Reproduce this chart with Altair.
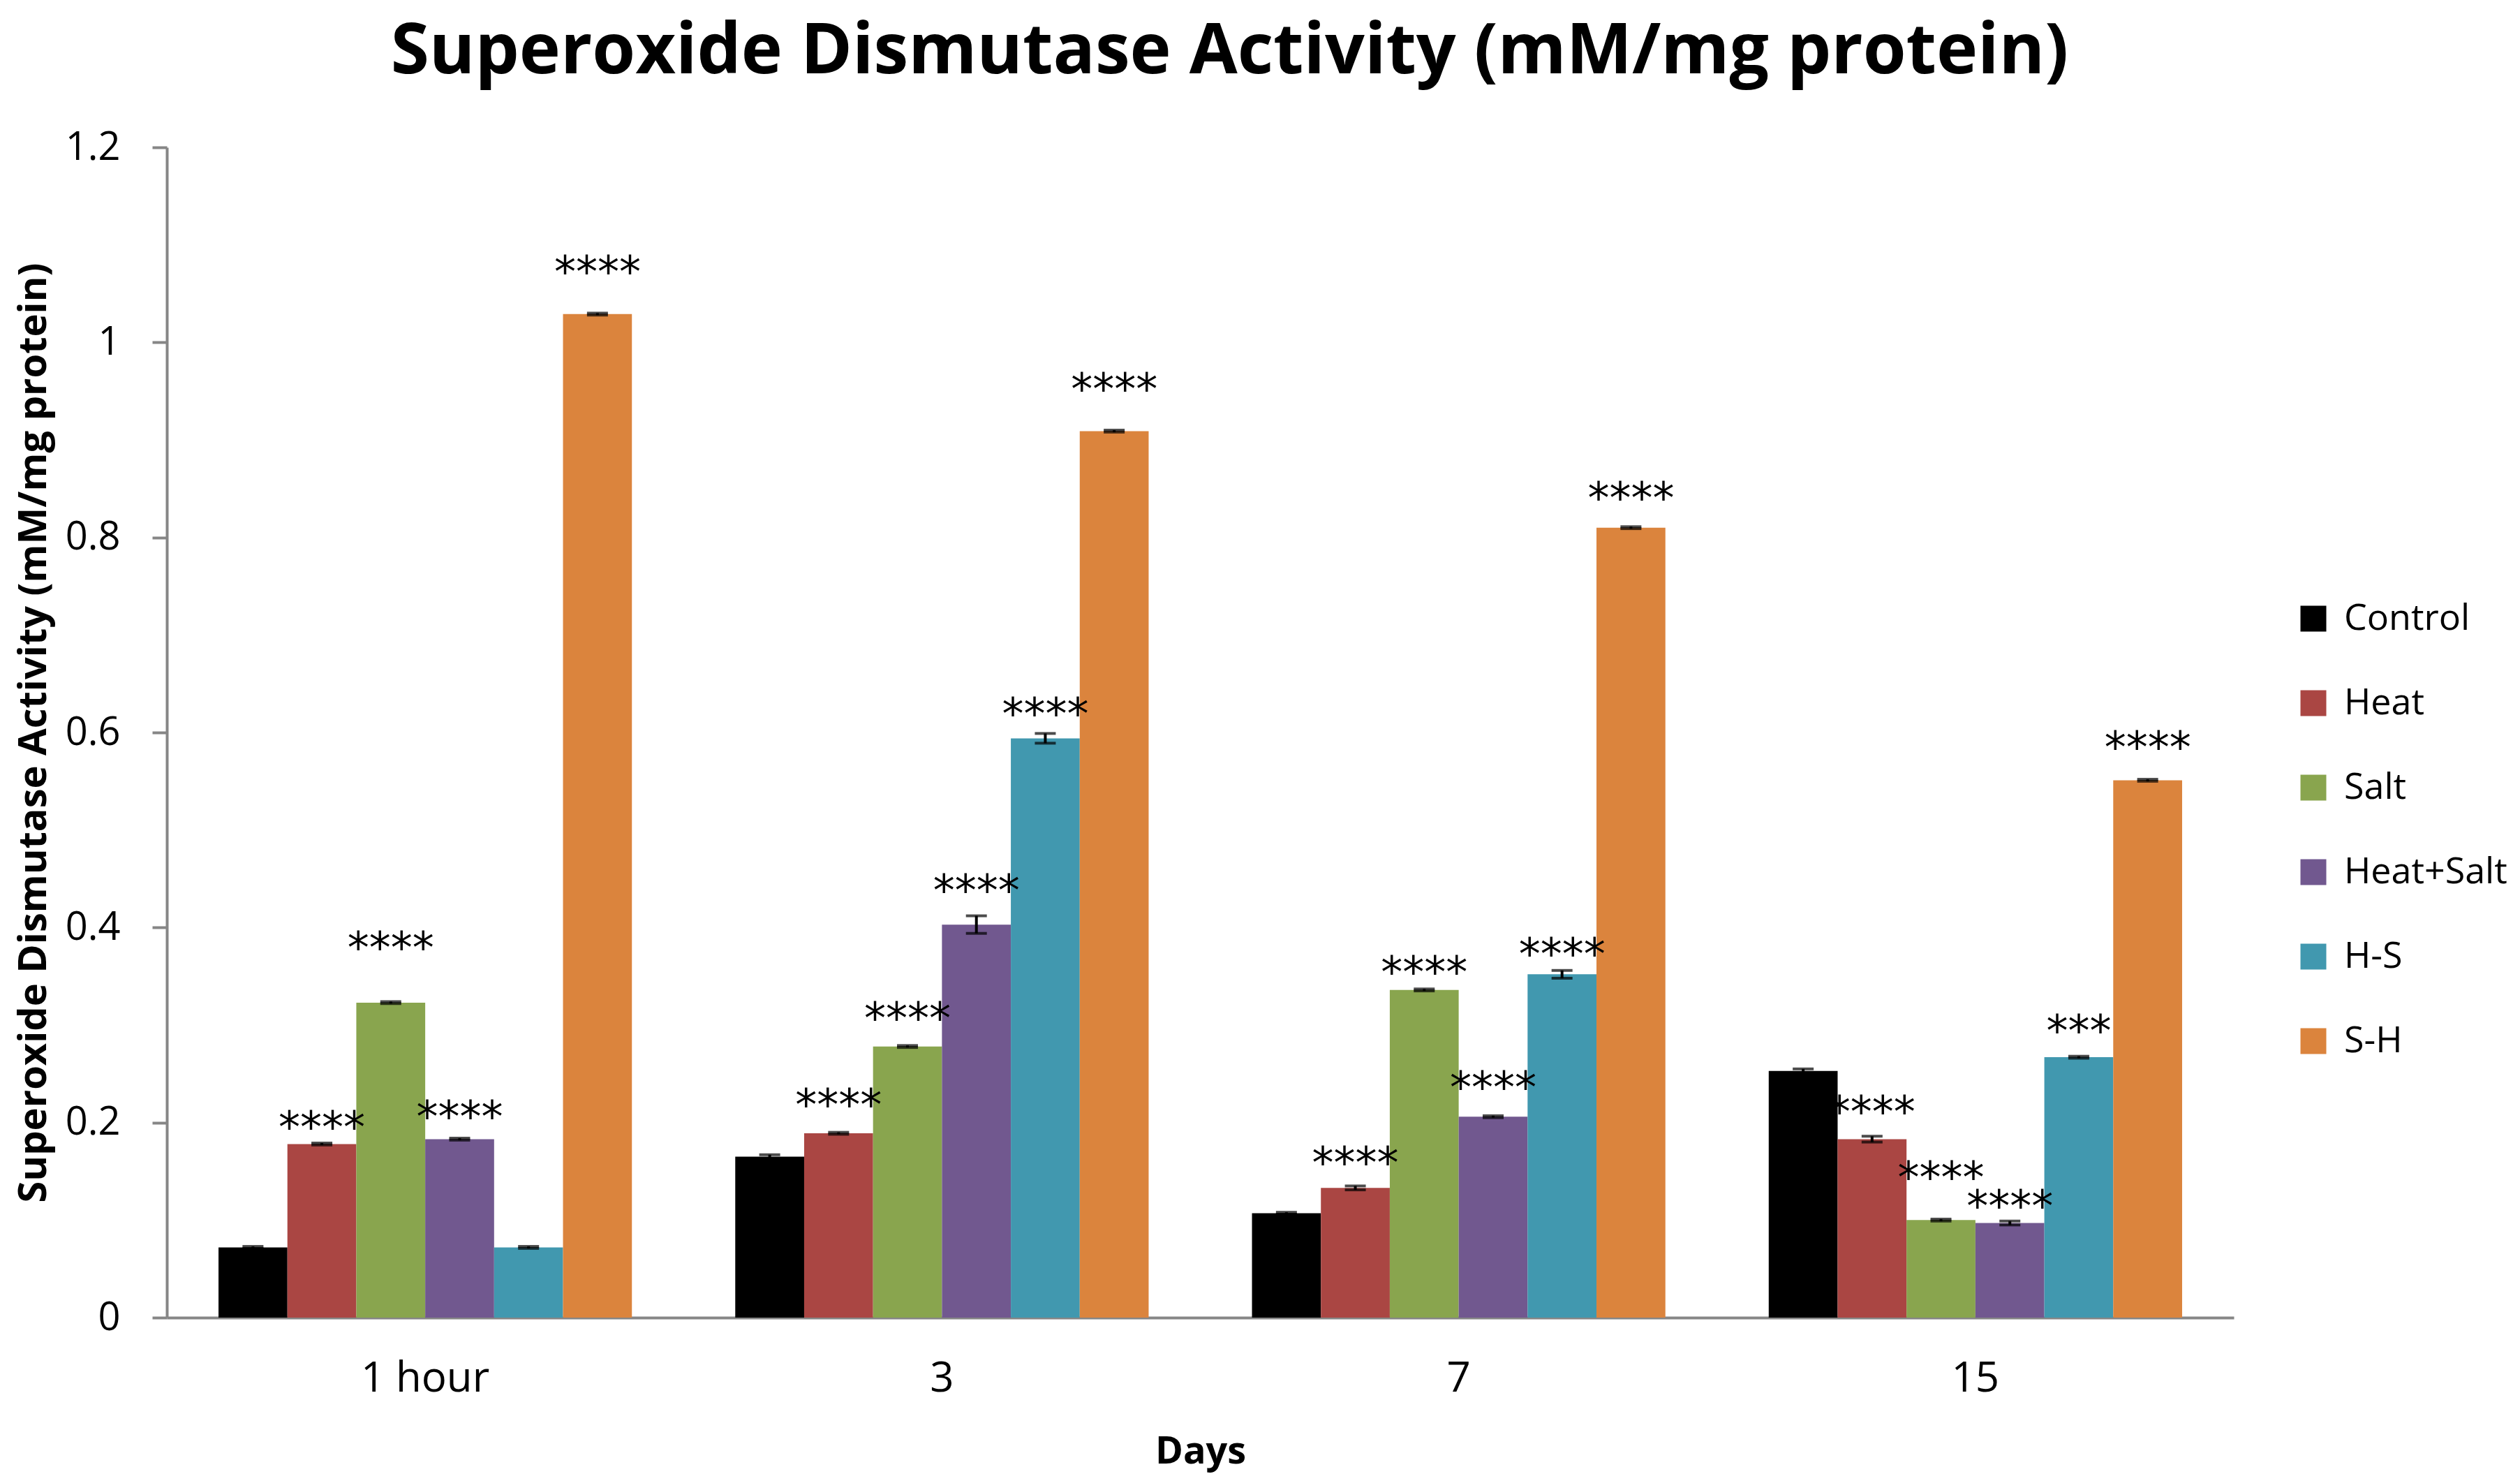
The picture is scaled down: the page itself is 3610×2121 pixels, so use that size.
import altair as alt
import pandas as pd

days = ["1 hour", "3", "7", "15"]
treatments = ["Control", "Heat", "Salt", "Heat+Salt", "H-S", "S-H"]
colors = ["#000000", "#AA4643", "#89A54E", "#71588F", "#4198AF", "#DB843D"]

# mean values per treatment, one per day (1 hour, 3, 7, 15)
control = [0.072, 0.165, 0.107, 0.253]
heat = [0.178, 0.189, 0.133, 0.183]
salt = [0.323, 0.278, 0.336, 0.100]
heat_salt = [0.183, 0.403, 0.206, 0.097]
h_s = [0.072, 0.594, 0.352, 0.267]
s_h = [1.029, 0.909, 0.810, 0.551]

# error (± SE) per treatment
control_err = [0.001, 0.002, 0.001, 0.002]
heat_err = [0.001, 0.001, 0.002, 0.003]
salt_err = [0.001, 0.001, 0.001, 0.001]
heat_salt_err = [0.001, 0.009, 0.001, 0.002]
h_s_err = [0.001, 0.005, 0.004, 0.001]
s_h_err = [0.001, 0.001, 0.001, 0.001]

# significance marks
control_sig = ["", "", "", ""]
heat_sig = ["****", "****", "****", "****"]
salt_sig = ["****", "****", "****", "****"]
heat_salt_sig = ["****", "****", "****", "****"]
h_s_sig = ["", "****", "****", "***"]
s_h_sig = ["****", "****", "****", "****"]

# height (in axis units) at which each significance mark sits
control_sig_at = [0.0, 0.0, 0.0, 0.0]
heat_sig_at = [0.206, 0.229, 0.170, 0.222]
salt_sig_at = [0.390, 0.318, 0.365, 0.155]
heat_salt_sig_at = [0.217, 0.449, 0.247, 0.125]
h_s_sig_at = [0.0, 0.630, 0.384, 0.305]
s_h_sig_at = [1.083, 0.963, 0.851, 0.596]

values = [control, heat, salt, heat_salt, h_s, s_h]
errors = [control_err, heat_err, salt_err, heat_salt_err, h_s_err, s_h_err]
sigs = [control_sig, heat_sig, salt_sig, heat_salt_sig, h_s_sig, s_h_sig]
sig_ats = [control_sig_at, heat_sig_at, salt_sig_at, heat_salt_sig_at,
           h_s_sig_at, s_h_sig_at]

rows = []
for t, vals, errs, sg, sa in zip(treatments, values, errors, sigs, sig_ats):
    for d, v, e, s, a in zip(days, vals, errs, sg, sa):
        rows.append({"day": d, "treatment": t, "value": v, "err": e,
                     "sig": s, "sig_at": a})
df = pd.DataFrame(rows)

FONT = "Open Sans"
AXIS_GRAY = "#868686"

x_enc = alt.X("day:N", sort=days,
              scale=alt.Scale(paddingInner=0.2, paddingOuter=0.1),
              axis=alt.Axis(title="Days", labelAngle=0, labelFont=FONT,
                            labelFontSize=60, labelColor="black",
                            labelPadding=58, labelLimit=1000, ticks=False,
                            domainColor=AXIS_GRAY, domainWidth=4,
                            titleFont=FONT, titleFontSize=54,
                            titleFontWeight="bold", titleColor="black",
                            titleY=208, titleBaseline="alphabetic"))
xo_enc = alt.XOffset("treatment:N", sort=treatments,
                     scale=alt.Scale(paddingInner=0, paddingOuter=0))

y_scale = alt.Scale(domain=[0, 1.2], nice=False)

base = alt.Chart(df)

bars = base.mark_bar().encode(
    x=x_enc,
    xOffset=xo_enc,
    y=alt.Y("value:Q", scale=y_scale,
            axis=alt.Axis(title="Superoxide Dismutase Activity (mM/mg protein)",
                          values=[0, 0.2, 0.4, 0.6, 0.8, 1.0, 1.2],
                          format="~g", grid=False,
                          labelFont=FONT, labelFontSize=56,
                          labelColor="black", labelPadding=46,
                          tickSize=21, tickWidth=4, tickColor=AXIS_GRAY,
                          domainColor=AXIS_GRAY, domainWidth=4,
                          titleFont=FONT, titleFontSize=56,
                          titleFontWeight="bold", titleColor="black",
                          titleX=-174, titleBaseline="alphabetic")),
    color=alt.Color("treatment:N", sort=treatments,
                    scale=alt.Scale(domain=treatments, range=colors),
                    legend=alt.Legend(title=None, orient="none",
                                      legendX=3049, legendY=649,
                                      symbolType="square", symbolSize=1369,
                                      symbolStrokeWidth=0, symbolOpacity=1,
                                      labelFont=FONT, labelFontSize=52,
                                      labelColor="black", labelOffset=18,
                                      labelLimit=1000,
                                      rowPadding=69, padding=0)),
)

err_rule = base.mark_rule(color="black", strokeWidth=4).transform_calculate(
    lo="datum.value - datum.err", hi="datum.value + datum.err"
).encode(
    x=alt.X("day:N", sort=days),
    xOffset=xo_enc,
    y=alt.Y("lo:Q", scale=y_scale),
    y2="hi:Q",
)

cap_top = base.mark_tick(color="black", thickness=4, size=30).transform_calculate(
    hi="datum.value + datum.err"
).encode(
    x=alt.X("day:N", sort=days),
    xOffset=xo_enc,
    y=alt.Y("hi:Q", scale=y_scale),
)

cap_bot = base.mark_tick(color="black", thickness=4, size=30).transform_calculate(
    lo="datum.value - datum.err"
).encode(
    x=alt.X("day:N", sort=days),
    xOffset=xo_enc,
    y=alt.Y("lo:Q", scale=y_scale),
)

sig_text = base.transform_filter("datum.sig != ''").mark_text(
    font="DejaVu Sans", fontSize=62, color="black",
    baseline="alphabetic", dy=37, align="center"
).encode(
    x=alt.X("day:N", sort=days),
    xOffset=xo_enc,
    y=alt.Y("sig_at:Q", scale=y_scale),
    text="sig:N",
)

chart = alt.layer(bars, err_rule, cap_top, cap_bot, sig_text).properties(
    width=2961, height=1676,
    title=alt.TitleParams("Superoxide Dismutase Activity (mM/mg protein)",
                          font=FONT, fontSize=100, fontWeight="bold",
                          color="black", anchor="middle", frame="group",
                          dx=42, offset=-22, baseline="alphabetic"),
    autosize=alt.AutoSizeParams(type="none"),
    padding={"left": 231, "top": 203, "right": 400, "bottom": 226},
    background="white",
).configure_view(stroke=None)

chart.save("out.html", embed_options={"renderer": "svg", "actions": False})
